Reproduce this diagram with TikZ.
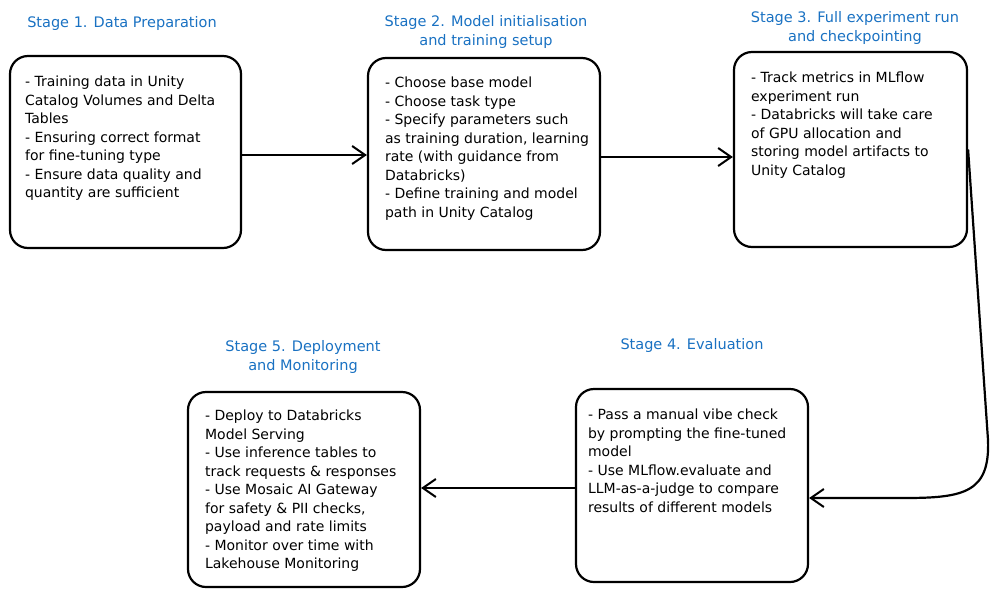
\documentclass[tikz,border=0pt]{standalone}
\usepackage{fontspec}
\setmainfont{DejaVu Sans}
\usetikzlibrary{positioning,arrows.meta}
\definecolor{stageblue}{RGB}{25,113,194}
\tikzset{
  stagebox/.style={draw, line width=2.2pt, rounded corners=18pt, inner sep=0pt},
  boxtext/.style={align=left, inner sep=0pt, font=\fontsize{14}{18.5}\selectfont},
  stagetitle/.style={align=center, inner sep=0pt, text=stageblue, font=\fontsize{14.5}{19.5}\selectfont},
  flow/.style={line width=2.2pt, -{Straight Barb[length=13pt,width=18pt,line width=2pt]}}
}
\begin{document}
\begin{tikzpicture}[x=1pt,y=-1pt]
  \useasboundingbox (0,0) rectangle (999,595);
  % boxes
  \node[stagebox, minimum width=231pt, minimum height=192pt] (b1) at (125.5,152) {};
  \node[stagebox, minimum width=232pt, minimum height=192pt] (b2) at (484,154) {};
  \node[stagebox, minimum width=233pt, minimum height=195pt] (b3) at (850.5,149.5) {};
  \node[stagebox, minimum width=232pt, minimum height=193pt] (b4) at (692,485.5) {};
  \node[stagebox, minimum width=232pt, minimum height=195pt] (b5) at (304,489.5) {};
  % titles
  \node[stagetitle] (s1) at (122,23) {Stage 1. Data Preparation};
  \node[stagetitle] (s2) at (486,32) {Stage 2. Model initialisation\\and training setup};
  \node[stagetitle] (s3) at (855,28) {Stage 3. Full experiment run\\and checkpointing};
  \node[stagetitle] (s4) at (692,345) {Stage 4. Evaluation};
  \node[stagetitle] (s5) at (303,357) {Stage 5. Deployment\\and Monitoring};
  % box texts
  \node[boxtext, below right=21pt and 16pt of b1.north west] (t1)
    {- Training data in Unity\\Catalog Volumes and Delta\\Tables\\- Ensuring correct format\\for fine-tuning type\\- Ensure data quality and\\quantity are sufficient};
  \node[boxtext, below right=20pt and 18pt of b2.north west] (t2)
    {- Choose base model\\- Choose task type\\- Specify parameters such\\as training duration, learning\\rate (with guidance from\\Databricks)\\- Define training and model\\path in Unity Catalog};
  \node[boxtext, below right=21pt and 18pt of b3.north west] (t3)
    {- Track metrics in MLflow\\experiment run\\- Databricks will take care\\of GPU allocation and\\storing model artifacts to\\Unity Catalog};
  \node[boxtext, below right=21pt and 13pt of b4.north west] (t4)
    {- Pass a manual vibe check\\by prompting the fine-tuned\\model\\- Use MLflow.evaluate and\\LLM-as-a-judge to compare\\results of different models};
  \node[boxtext, below right=19pt and 18pt of b5.north west] (t5)
    {- Deploy to Databricks\\Model Serving\\- Use inference tables to\\track requests \& responses\\- Use Mosaic AI Gateway\\for safety \& PII checks,\\payload and rate limits\\- Monitor over time with\\Lakehouse Monitoring};
  % arrows
  \draw[flow] ([yshift=-3pt]b1.east) -- ([yshift=-3pt]b1.east -| b2.west);
  \draw[flow] ([yshift=-3pt]b2.east) -- ([yshift=-3pt]b2.east -| b3.west);
  \draw[flow] (b3.east) -- (988,440) .. controls (990,492) and (965,498) .. (905,498) -- ([yshift=-12.5pt]b4.east);
  \draw[flow] ([yshift=-2.5pt]b4.west) -- ([yshift=-2.5pt]b4.west -| b5.east);
\end{tikzpicture}
\end{document}
